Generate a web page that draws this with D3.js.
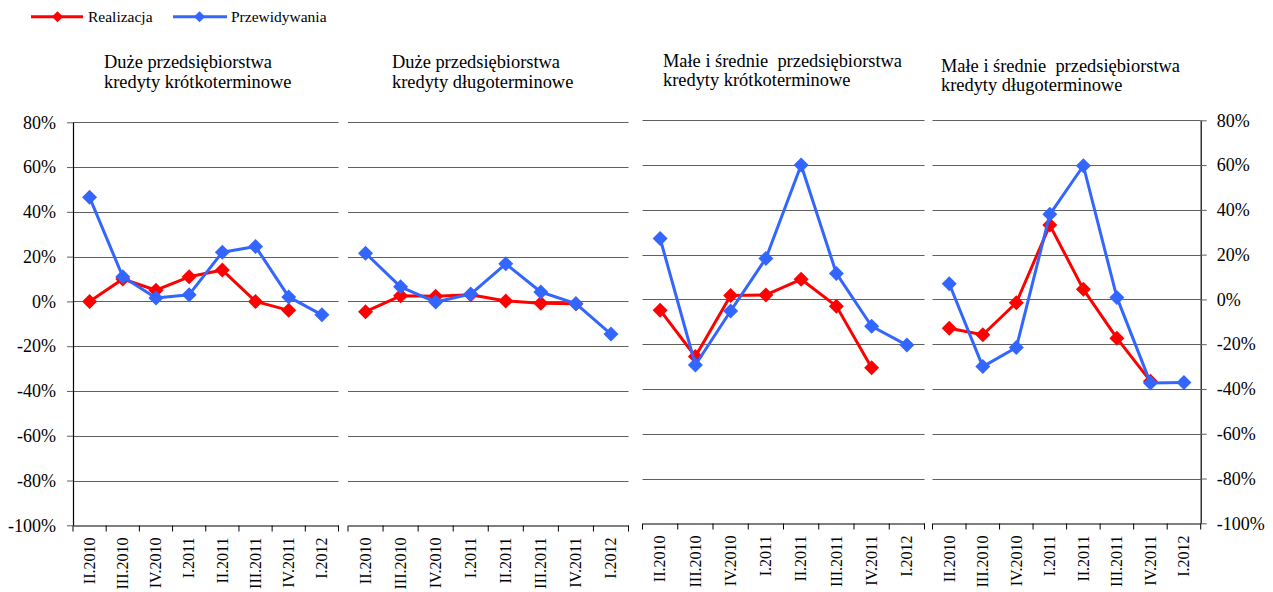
<!DOCTYPE html>
<html>
<head>
<meta charset="utf-8">
<script src="https://cdn.jsdelivr.net/npm/d3@7"></script>
<style>
  body { margin: 0; background: #fff; }
  svg { font-family: "Liberation Serif", "Times New Roman", serif; }
</style>
</head>
<body>
<svg id="chart" width="1273" height="592"></svg>
<script>
"use strict";

// data
const categories = ["II.2010", "III.2010", "IV.2010", "I.2011", "II.2011", "III.2011", "IV.2011", "I.2012"];
const yTicks = [80, 60, 40, 20, 0, -20, -40, -60, -80, -100];
const seriesNames = ["Realizacja", "Przewidywania"];

const duzeKrotkieReal = [0, 10, 5, 11, 14, 0, -4];
const duzeKrotkiePrzew = [46.5, 11, 1.5, 3, 22, 24.5, 2, -6];
const duzeDlugieReal = [-4.6, 2.5, 2.3, 3, 0.2, -0.8, -1];
const duzeDlugiePrzew = [21.5, 6.5, -0.3, 3.3, 16.8, 4.2, -1, -14.6];
const msKrotkieReal = [-4.8, -25.5, 1.8, 2, 9, -3, -30.5];
const msKrotkiePrzew = [27.2, -29.3, -5.2, 18.3, 60, 11.6, -12, -20.4];
const msDlugieReal = [-12.9, -15.8, -1.5, 33.2, 4.5, -17.3, -36.5];
const msDlugiePrzew = [7, -30, -21.5, 38, 59.7, 0.9, -37.3, -37.1];

const titles = [
  ["Duże przedsiębiorstwa", "kredyty krótkoterminowe"],
  ["Duże przedsiębiorstwa", "kredyty długoterminowe"],
  ["Małe i średnie  przedsiębiorstwa", "kredyty krótkoterminowe"],
  ["Małe i średnie  przedsiębiorstwa", "kredyty długoterminowe"]
];

const colors = ["#ff0000", "#3366ff"];

// panel layout
const panels = [
  {x0: 73, x1: 338.5, yTop: 122.3, yBot: 525.3, tx: 104, ty: 68.3, real: duzeKrotkieReal, przew: duzeKrotkiePrzew, left: true},
  {x0: 348, x1: 628.5, yTop: 122.3, yBot: 525.3, tx: 392, ty: 68.3, real: duzeDlugieReal, przew: duzeDlugiePrzew},
  {x0: 642.5, x1: 924.5, yTop: 120.3, yBot: 523.3, tx: 663, ty: 66.7, real: msKrotkieReal, przew: msKrotkiePrzew},
  {x0: 932.5, x1: 1200.7, yTop: 120.3, yBot: 523.3, tx: 941, ty: 71.7, real: msDlugieReal, przew: msDlugiePrzew, right: true}
];

const svg = d3.select("#chart");

function diamond(r) {
  return `M0,${-r}L${r},0L0,${r}L${-r},0Z`;
}

panels.forEach((p, i) => {
  const x = d3.scaleBand().domain(categories).range([p.x0, p.x1]).padding(0);
  const y = d3.scaleLinear().domain([-100, 80]).range([p.yBot, p.yTop]);
  const cx = c => x(c) + x.bandwidth() / 2;

  const g = svg.append("g");

  // title
  const t = g.append("text")
    .attr("x", p.tx).attr("y", p.ty)
    .attr("font-size", 18.4)
    .attr("fill", "#000")
    .style("white-space", "pre");
  t.append("tspan").attr("x", p.tx).text(titles[i][0]);
  t.append("tspan").attr("x", p.tx).attr("dy", 19.5).text(titles[i][1]);

  // gridlines
  g.append("g").selectAll("line")
    .data(yTicks.filter(v => v > -100))
    .join("line")
      .attr("x1", p.x0).attr("x2", p.x1)
      .attr("y1", d => Math.round(y(d)) + 0.5).attr("y2", d => Math.round(y(d)) + 0.5)
      .attr("stroke", "#5f5f5f").attr("stroke-width", 1);

  // bottom axis: labels from the axis, ticks at band boundaries
  const xAxis = g.append("g")
    .attr("transform", `translate(0,${Math.round(p.yBot) + 0.5})`)
    .call(d3.axisBottom(x).tickSize(0).tickSizeOuter(0).tickPadding(0))
    .attr("font-family", null);
  xAxis.select(".domain").attr("stroke", "#000").attr("stroke-width", 1.2);
  xAxis.selectAll("text")
    .attr("transform", "rotate(-90)")
    .attr("x", -12).attr("y", 0).attr("dy", "0.33em")
    .attr("font-size", 16)
    .style("text-anchor", "end");
  xAxis.selectAll(".bnd")
    .data(d3.range(categories.length + 1))
    .join("line")
      .attr("class", "bnd")
      .attr("x1", k => p.x0 + k * x.step()).attr("x2", k => p.x0 + k * x.step())
      .attr("y1", 0).attr("y2", 6)
      .attr("stroke", "#000").attr("stroke-width", 1);

  // y axes
  if (p.left || p.right) {
    const axis = (p.left ? d3.axisLeft(y) : d3.axisRight(y))
      .tickValues(yTicks).tickFormat(d => d + "%")
      .tickSize(6).tickSizeOuter(0).tickPadding(p.left ? 11 : 10);
    const ya = g.append("g")
      .attr("transform", `translate(${p.left ? p.x0 : p.x1},0)`)
      .call(axis)
      .attr("font-family", null);
    ya.select(".domain").attr("stroke", "#000").attr("stroke-width", 1.2);
    ya.selectAll(".tick line").attr("stroke", "#5f5f5f");
    ya.selectAll("text").attr("font-size", 18).attr("fill", "#000");
  }

  // series: realizacja first, przewidywania on top
  [p.real, p.przew].forEach((vals, s) => {
    const pts = vals.map((v, k) => [cx(categories[k]), y(v)]);
    g.append("path")
      .attr("d", d3.line()(pts))
      .attr("fill", "none")
      .attr("stroke", colors[s])
      .attr("stroke-width", 3)
      .attr("stroke-linejoin", "round");
    g.append("g").selectAll("path")
      .data(pts)
      .join("path")
        .attr("transform", d => `translate(${d[0]},${d[1]})`)
        .attr("d", diamond(7.5))
        .attr("fill", colors[s]);
  });
});

// legend
const legend = svg.append("g");
const legendItems = [
  {lx0: 31, lx1: 83, mx: 57.5, tx: 88},
  {lx0: 173, lx1: 227, mx: 199.5, tx: 231}
];
legendItems.forEach((it, s) => {
  legend.append("line")
    .attr("x1", it.lx0).attr("x2", it.lx1).attr("y1", 16.7).attr("y2", 16.7)
    .attr("stroke", colors[s]).attr("stroke-width", 3);
  legend.append("path")
    .attr("transform", `translate(${it.mx},16.7)`)
    .attr("d", diamond(5.5))
    .attr("fill", colors[s]);
  legend.append("text")
    .attr("x", it.tx).attr("y", 21.7)
    .attr("font-size", 15.5)
    .text(seriesNames[s]);
});
</script>
</body>
</html>
